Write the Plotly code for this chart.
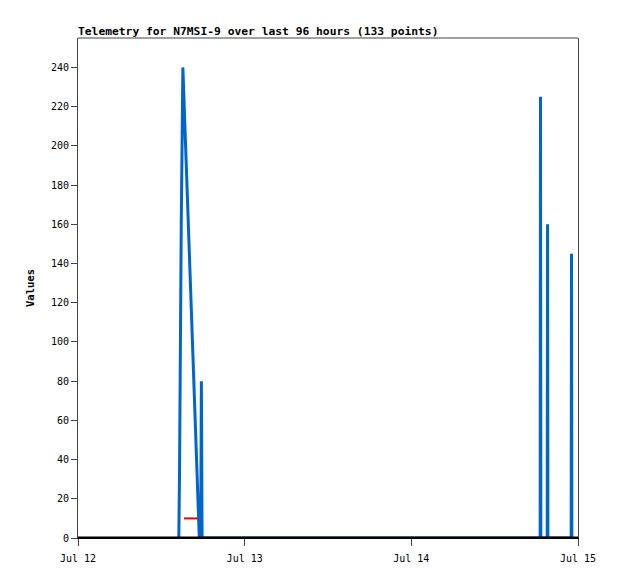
import plotly.graph_objects as go

# ---- data ----
blue_times = [
    "2024-07-12 14:31", "2024-07-12 14:37", "2024-07-12 14:52", "2024-07-12 15:06",
    "2024-07-12 17:28", "2024-07-12 17:40", "2024-07-12 17:46", "2024-07-12 17:52",
    "2024-07-14 18:33", "2024-07-14 18:36", "2024-07-14 18:39",
    "2024-07-14 19:34", "2024-07-14 19:37", "2024-07-14 19:40",
    "2024-07-14 23:01", "2024-07-14 23:04", "2024-07-14 23:07",
]
blue_values = [0, 32, 160, 240, 0, 0, 80, 0, 0, 225, 0, 0, 160, 0, 0, 145, 0]

red_times = ["2024-07-12 15:16", "2024-07-12 17:17"]
red_values = [10, 10]

base_times = ["2024-07-12 00:00", "2024-07-15 00:00"]
base_values = [0, 0]

x_range = ["2024-07-12 00:00", "2024-07-15 00:00"]
y_ticks = list(range(0, 241, 20))
title_text = "Telemetry for N7MSI-9 over last 96 hours (133 points)"
y_title = "Values"

FONT = "DejaVu Sans Mono"
W, H = 610, 571

fig = go.Figure()
fig.add_trace(go.Scatter(x=blue_times, y=blue_values, mode="lines",
                         line=dict(color="#0066CC", width=3), showlegend=False))
fig.add_trace(go.Scatter(x=red_times, y=red_values, mode="lines",
                         line=dict(color="#FF0000", width=2), showlegend=False))
fig.add_trace(go.Scatter(x=base_times, y=base_values, mode="lines",
                         line=dict(color="black", width=3), showlegend=False))

fig.update_layout(
    width=W, height=H,
    margin=dict(l=70, r=40, t=30, b=41),
    paper_bgcolor="white", plot_bgcolor="white",
    font=dict(family=FONT, size=10, color="black"),
    title=dict(text=title_text, x=0, xref="paper", xanchor="left",
               y=1 - 23 / H, yref="container", yanchor="middle",
               font=dict(family=FONT, size=11.3, weight="bold", color="black")),
    shapes=[dict(type="line", xref="paper", yref="paper", x0=0, x1=1, y0=1, y1=1,
                 line=dict(color="#444444", width=1))],
)
fig.update_xaxes(
    type="date", range=x_range, tick0="2024-07-12", dtick=86400000,
    tickformat="%b %d", ticks="outside", ticklen=7, tickcolor="#444444",
    ticklabelstandoff=4,
    showgrid=False, zeroline=False, showline=True, linecolor="black", linewidth=1,
    tickfont=dict(family=FONT, size=10, color="black"),
)
fig.update_yaxes(
    range=[0, 255], tickvals=y_ticks, ticks="outside", ticklen=6, tickcolor="#444444",
    showgrid=False, zeroline=False, showline=True, mirror=True,
    linecolor="#444444", linewidth=1,
    tickfont=dict(family=FONT, size=10, color="black"),
    title=dict(text=y_title, standoff=14,
               font=dict(family=FONT, size=10.5, weight="bold", color="black")),
)

fig.write_html("out.html")
